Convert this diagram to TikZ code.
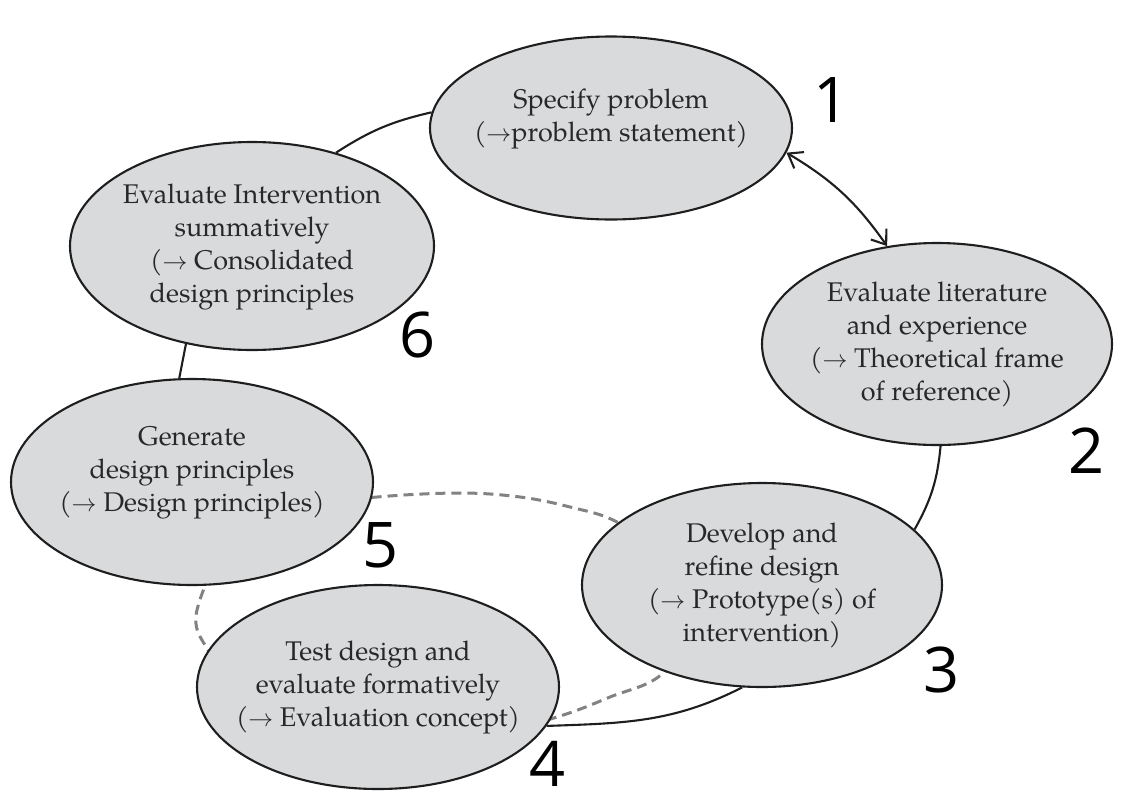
\documentclass[tikz,border=0pt]{standalone}
\usepackage{fontspec}
\setmainfont{TeX Gyre Pagella}
\newfontfamily\numfont{Open Sans}
\usetikzlibrary{shapes.geometric,arrows.meta}
\definecolor{boxgray}{RGB}{217,218,220}
\definecolor{inkgray}{RGB}{30,30,30}
\definecolor{txtgray}{RGB}{40,40,40}
\definecolor{dashgray}{RGB}{130,130,130}
\newcommand{\stagetext}[2][0pt]{\smash{\makebox[0pt]{\raisebox{\dimexpr#1-6.5pt\relax}{\begin{tabular}{@{}c@{}}#2\end{tabular}}}}}
\newcommand{\arr}{$\mathbf{\rightarrow}$}
\begin{document}
\begin{tikzpicture}[x=1pt,y=-1pt,
  stage/.style={ellipse, draw=inkgray, line width=2.1pt, fill=boxgray, inner sep=0pt,
    text=txtgray, font=\fontsize{27}{33}\selectfont},
  num/.style={inner sep=0pt, font=\numfont\fontsize{63}{63}\selectfont, text=black},
  conn/.style={draw=inkgray, line width=2.1pt},
  barb/.style={{Straight Barb[length=13pt,width=19pt]}-{Straight Barb[length=13pt,width=19pt]}},
  loop/.style={draw=dashgray, line width=3pt, dash pattern=on 10pt off 6pt}]
\useasboundingbox (0,0) rectangle (1123,793);

% dashed inner cycle (behind the stages)
\draw[loop] plot[smooth cycle, tension=0.6] coordinates {
  (197,610) (235,535) (300,507) (377,497) (460,493) (520,497) (570,507) (617,522)
  (670,560) (695,615) (663,673) (610,697) (557,717) (480,737) (400,740) (300,715)
  (240,685) (208,650)};

% stages
\node[stage, minimum width=362pt, minimum height=183pt] (e1) at (611,128)
  {\stagetext[10pt]{Specify problem\\(\arr problem statement)}};
\node[stage, minimum width=350pt, minimum height=202pt] (e2) at (937,344)
  {\stagetext{Evaluate literature\\and experience\\(\arr{} Theoretical frame\\of reference)}};
\node[stage, minimum width=360pt, minimum height=204pt] (e3) at (762,585)
  {\stagetext{Develop and\\refine design\\(\arr{} Prototype(s) of\\intervention)}};
\node[stage, minimum width=362pt, minimum height=204pt] (e4) at (378,687)
  {\stagetext{Test design and\\evaluate formatively\\(\arr{} Evaluation concept)}};
\node[stage, minimum width=362pt, minimum height=206pt] (e5) at (192,482)
  {\stagetext[10pt]{Generate\\design principles\\(\arr{} Design principles)}};
\node[stage, minimum width=364pt, minimum height=208pt] (e6) at (252,246)
  {\stagetext{Evaluate Intervention\\summatively\\(\arr{} Consolidated\\design principles}};

% step numbers
\node[num] (n1) at (831,100) {1};
\node[num] (n2) at (1086,451) {2};
\node[num] (n3) at (941,670) {3};
\node[num] (n4) at (548,764) {4};
\node[num] (n5) at (381,545) {5};
\node[num] (n6) at (418,335) {6};

% connectors
\draw[conn] (e1.175) to[bend right=10] (e6.48);
\draw[conn, barb] (e1.352) to[bend left=12] (e2.117);
\draw[conn] (e2.272) to[bend left=12] (e3.20);
\draw[conn] (e3.259) to[out=207, in=2] (e4.347);
\draw[conn] (e6.236) -- (e5.97);
\end{tikzpicture}
\end{document}
